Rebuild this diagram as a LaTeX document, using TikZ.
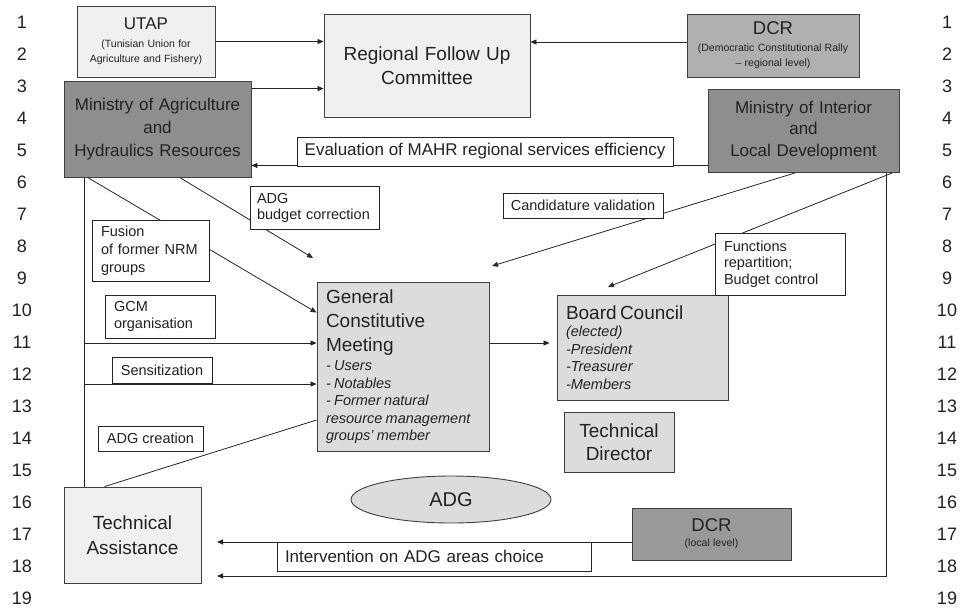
\documentclass[tikz,border=0pt]{standalone}
\usepackage{fontspec}
\setmainfont{Liberation Sans}
\usetikzlibrary{arrows.meta,calc,shapes.geometric}
\definecolor{lightc}{HTML}{F0F0F0}
\definecolor{midc}{HTML}{DCDCDC}
\definecolor{dcrg}{HTML}{B0B0B0}
\definecolor{darkc}{HTML}{8E8E8E}
\definecolor{dcrl}{HTML}{999999}
\definecolor{edgec}{HTML}{404040}
\definecolor{txt}{HTML}{222222}
\pgfdeclarelayer{background}
\pgfsetlayers{background,main}
\hyphenpenalty=10000
\exhyphenpenalty=10000
\begin{document}
\begin{tikzpicture}[x=1pt,y=-1pt,
 box/.style={draw=edgec, line width=0.9pt, align=center, inner sep=0pt, text=txt},
 lbl/.style={draw=black!85, fill=white, line width=0.7pt, inner sep=0pt, text=txt},
 arr/.style={draw=black!85, line width=0.8pt, -{Triangle[length=6pt,width=5pt]}},
 ln/.style={draw=black!85, line width=0.8pt},
 num/.style={font=\fontsize{18}{20}\selectfont, text=txt, inner sep=0pt},
 big/.style={font=\fontsize{19}{24}\selectfont},
 lab/.style={font=\fontsize{14.5}{17}\selectfont},
]
\useasboundingbox (0,0) rectangle (967,614);

% line numbers
\foreach \i in {1,...,19}{
  \node[num] (nl\i) at (22,{22+32*(\i-1)}) {\i};
  \node[num] (nr\i) at (947,{22+32*(\i-1)}) {\i};
}

% main boxes
\node[box, fill=lightc, minimum width=138pt, minimum height=71pt, text width=134pt] (utap) at (146,41.5)
  {{\fontsize{17}{20}\selectfont UTAP\par}\vspace{3pt}{\fontsize{10.5}{15}\selectfont (Tunisian Union for\\Agriculture and Fishery)\par}};
\node[box, fill=lightc, minimum width=206pt, minimum height=103pt, text width=200pt, big] (rfuc) at (427,65.5)
  {Regional Follow Up\\Committee};
\node[box, fill=dcrg, minimum width=172pt, minimum height=63pt, text width=168pt] (dcr1) at (773,45.5)
  {{\fontsize{18.5}{20}\selectfont DCR\par}\vspace{1pt}{\fontsize{10.5}{15.5}\selectfont (Democratic Constitutional Rally\\– regional level)\par}};
\node[box, fill=darkc, minimum width=187pt, minimum height=96pt, text width=183pt, font=\fontsize{17}{23}\selectfont] (mahr) at (157.5,129)
  {Ministry of Agriculture\\and\\Hydraulics Resources};
\node[box, fill=darkc, minimum width=191pt, minimum height=83pt, text width=187pt, font=\fontsize{17}{21.5}\selectfont] (midl) at (803.5,130.5)
  {Ministry of Interior\\and\\Local Development};
\node[box, fill=midc, minimum width=172pt, minimum height=169pt, text width=154pt, align=left] (gcm) at (403,366.5)
  {{\fontsize{19}{24}\selectfont General\\Constitutive\\Meeting\par}\vspace{2pt}{\fontsize{14.5}{17.5}\selectfont\itshape - Users\\- Notables\\- Former natural\\resource management\\groups' member\par}};
\node[box, fill=midc, minimum width=171pt, minimum height=105pt, text width=153pt, align=left] (board) at (642.5,347.5)
  {{\fontsize{19}{24}\selectfont Board Council\par}\vspace{0pt}{\fontsize{14.5}{17.5}\selectfont\itshape (elected)\\-President\\-Treasurer\\-Members\par}};
\node[box, fill=midc, minimum width=110pt, minimum height=60pt, text width=106pt, font=\fontsize{19}{23}\selectfont] (td) at (619,442)
  {Technical\\Director};
\node[ellipse, draw=edgec, line width=0.9pt, fill=midc, minimum width=200pt, minimum height=47pt, inner sep=0pt, text=txt, font=\fontsize{20}{24}\selectfont] (adg) at (451,499.5) {ADG};
\node[box, fill=lightc, minimum width=137pt, minimum height=96pt, text width=133pt, font=\fontsize{19}{25}\selectfont] (ta) at (132.5,535)
  {Technical\\Assistance};
\node[box, fill=dcrl, minimum width=159pt, minimum height=52pt, text width=155pt] (dcr2) at (711.5,534)
  {{\fontsize{18.5}{20}\selectfont DCR\par}\vspace{1pt}{\fontsize{10.5}{14}\selectfont (local level)\par}};

% label boxes
\node[lbl, minimum width=376pt, minimum height=29pt, font=\fontsize{17}{20}\selectfont] (eval) at (485,151.5)
  {Evaluation of MAHR regional services efficiency};
\node[lbl, minimum width=129pt, minimum height=43pt, text width=116pt, align=left, font=\fontsize{14.5}{16}\selectfont] (adgbc) at (315,207.5)
  {ADG\\budget correction};
\node[lbl, lab, minimum width=160pt, minimum height=25pt] (cand) at (583,205.5)
  {Candidature validation};
\node[lbl, minimum width=130pt, minimum height=62pt, text width=112pt, align=left, font=\fontsize{14.5}{16.5}\selectfont] (funcs) at (780,264)
  {Functions\\repartition;\\Budget control};
\node[lbl, minimum width=117pt, minimum height=61pt, text width=99pt, align=left, font=\fontsize{14.5}{18}\selectfont] (fusion) at (150.5,250.5)
  {Fusion\\of former NRM\\groups};
\node[lbl, minimum width=110pt, minimum height=43pt, text width=92pt, align=left, font=\fontsize{14.5}{17}\selectfont] (gcmorg) at (160,316.5)
  {GCM\\organisation};
\node[lbl, lab, minimum width=100pt, minimum height=26pt] (sens) at (162,370)
  {Sensitization};
\node[lbl, lab, minimum width=105pt, minimum height=25pt] (adgcr) at (150.5,438.5)
  {ADG creation};
\node[lbl, minimum width=314pt, minimum height=29pt, text width=298pt, align=left, font=\fontsize{17}{20}\selectfont] (interv) at (434,556.5)
  {Intervention on ADG areas choice};

% free ends
\coordinate (tipbc) at (313,258);
\coordinate (tipcand) at (492,266);
\coordinate (tipfun) at (608,287);
\coordinate (tipta1) at (217,542);
\coordinate (tipta2) at (217,576);
\coordinate (lgcm) at (85,343);
\coordinate (lsens) at (85,384);

\coordinate (u1) at (utap.east);
\coordinate (m1) at ($(mahr.north east)+(0,8)$);
\coordinate (d1) at ($(dcr1.west)+(0,-3.5)$);
\coordinate (e1) at ($(midl.south west)+(0,-7)$);
\coordinate (ms1) at ($(mahr.south west)+(116,0)$);
\coordinate (ms2) at ($(mahr.south west)+(24,0)$);
\coordinate (ml) at ($(mahr.south west)+(21,0)$);
\coordinate (g1) at ($(gcm.north west)+(0,31)$);
\coordinate (g2) at ($(gcm.west)+(0,53.5)$);
\coordinate (g3) at ($(gcm.east)+(0,-23.5)$);
\coordinate (mi1) at ($(midl.south west)+(89,0)$);
\coordinate (mi2) at ($(midl.south east)+(-6,0)$);
\coordinate (mi3) at ($(midl.south east)+(-13,0)$);
\coordinate (dl) at ($(dcr2.west)+(0,8)$);
\coordinate (tat) at ($(ta.north west)+(41,0)$);

\begin{pgfonlayer}{background}
\draw[arr] (u1) -- (u1 -| rfuc.west);
\draw[arr] (m1) -- (m1 -| rfuc.west);
\draw[arr] (d1) -- (d1 -| rfuc.east);
\draw[arr] (e1) -- (e1 -| mahr.east);
\draw[arr] (ms1) -- (tipbc);
\draw[arr] (ms2) -- (g1);
\draw[arr] (mi1) -- (tipcand);
\draw[arr] (mi2) -- (tipfun);
\draw[arr] (mi3) |- (tipta2);
\draw[arr] (dl) -- (tipta1);
\draw[ln] (ml) -- (ml |- ta.north);
\draw[arr] (lgcm) -- (lgcm -| gcm.west);
\draw[arr] (lsens) -- (lsens -| gcm.west);
\draw[ln] (tat) -- (g2);
\draw[arr, shorten >=7pt] (g3) -- (g3 -| board.west);
\end{pgfonlayer}
\end{tikzpicture}
\end{document}
